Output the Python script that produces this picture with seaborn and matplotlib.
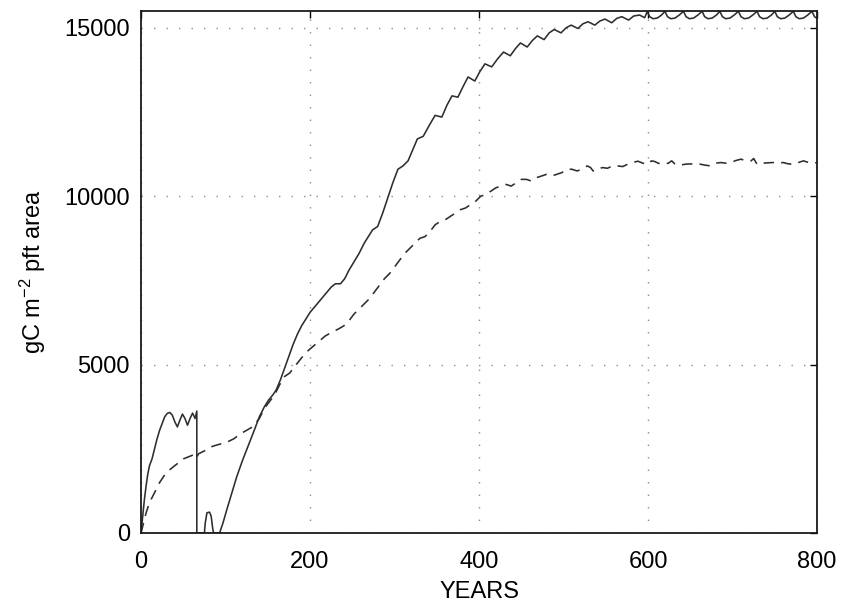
import matplotlib
matplotlib.use("Agg")
import matplotlib.pyplot as plt
import seaborn as sns
import pandas as pd

# Carbon per m2 of PFT area over an 800-year run
solid_years = [0, 2, 4, 6, 8, 10, 13, 16, 19, 22, 25, 28, 31, 34, 37, 40, 43, 46, 49, 52,
               55, 58, 61, 64, 66, 66, 75, 76, 78, 81, 83, 85, 86, 93, 97, 101, 107, 113,
               120, 127, 134, 140, 146, 151, 156, 160, 165, 170, 175, 180, 185, 190, 195,
               200, 205, 210, 215, 220, 225, 230, 236, 241, 246, 252, 258, 264, 269, 274,
               280, 286, 292, 298, 304, 310, 316, 322, 327, 334, 341, 348, 356, 362, 368,
               375, 381, 387, 395, 401, 407, 415, 422, 429, 437, 443, 449, 457, 463, 469,
               477, 483, 489, 497, 503, 509, 517, 523, 529, 537, 543, 549, 557, 563, 569,
               577, 583, 590, 596, 599, 602, 606, 611, 616, 620, 623, 627, 632, 637, 642,
               645, 649, 654, 659, 664, 667, 671, 676, 681, 685, 688, 692, 697, 702, 707,
               710, 714, 719, 724, 729, 732, 736, 741, 746, 750, 753, 757, 762, 767, 772,
               775, 779, 784, 789, 794, 797, 800]
solid_vals = [0, 500, 1000, 1400, 1750, 2000, 2200, 2500, 2800, 3050, 3250, 3450, 3550,
              3580, 3500, 3300, 3150, 3350, 3530, 3400, 3200, 3400, 3560, 3400, 3620, 0,
              0, 300, 600, 620, 500, 100, 0, 0, 300, 650, 1150, 1650, 2150, 2600, 3050,
              3450, 3750, 3950, 4100, 4250, 4550, 4900, 5250, 5600, 5900, 6150, 6350,
              6550, 6700, 6850, 7000, 7150, 7300, 7400, 7400, 7550, 7800, 8050, 8300,
              8600, 8800, 9000, 9100, 9500, 9950, 10400, 10800, 10900, 11050, 11400,
              11700, 11780, 12100, 12400, 12350, 12700, 12980, 12940, 13250, 13540,
              13420, 13700, 13930, 13840, 14080, 14280, 14170, 14380, 14550, 14430,
              14620, 14760, 14650, 14850, 14950, 14850, 15000, 15080, 14980, 15120,
              15180, 15080, 15200, 15260, 15150, 15280, 15330, 15230, 15350, 15380,
              15300, 15480, 15330, 15270, 15290, 15380, 15490, 15330, 15270, 15290,
              15380, 15490, 15330, 15270, 15290, 15380, 15490, 15330, 15270, 15290,
              15380, 15490, 15330, 15270, 15290, 15380, 15490, 15330, 15270, 15290,
              15380, 15490, 15330, 15270, 15290, 15380, 15490, 15330, 15270, 15290,
              15380, 15490, 15330, 15270, 15290, 15380, 15490, 15330, 15280]

dashed_years = [0, 3, 6, 10, 14, 18, 22, 26, 30, 35, 40, 45, 50, 55, 60, 64, 66, 68, 72,
                76, 82, 88, 95, 102, 110, 118, 125, 132, 140, 146, 152, 158, 164, 170,
                176, 182, 190, 197, 204, 211, 218, 225, 233, 240, 246, 252, 258, 264,
                270, 276, 282, 288, 294, 300, 306, 312, 318, 324, 330, 336, 342, 348,
                354, 360, 366, 372, 378, 384, 390, 396, 402, 408, 414, 420, 426, 432,
                438, 444, 450, 456, 462, 468, 474, 480, 486, 492, 498, 504, 510, 516,
                522, 528, 532, 535, 540, 546, 552, 558, 564, 570, 576, 582, 588, 594,
                600, 604, 608, 612, 618, 624, 628, 632, 638, 644, 650, 656, 662, 668,
                674, 680, 686, 692, 698, 704, 710, 716, 722, 725, 729, 735, 741, 748,
                754, 760, 766, 772, 778, 784, 790, 796, 800]
dashed_vals = [0, 300, 600, 900, 1100, 1300, 1500, 1650, 1800, 1900, 2000, 2100, 2200,
               2250, 2300, 2350, 2250, 2350, 2400, 2450, 2550, 2600, 2650, 2700, 2800,
               2950, 3050, 3150, 3400, 3700, 3900, 4100, 4400, 4650, 4750, 4950, 5200,
               5400, 5550, 5700, 5850, 5950, 6050, 6150, 6300, 6500, 6650, 6800, 6950,
               7150, 7350, 7550, 7700, 7900, 8100, 8300, 8450, 8600, 8750, 8800, 8950,
               9150, 9250, 9300, 9400, 9500, 9600, 9650, 9750, 9850, 10000, 10050,
               10150, 10250, 10300, 10350, 10300, 10400, 10500, 10500, 10450, 10550,
               10600, 10650, 10600, 10650, 10700, 10800, 10800, 10750, 10800, 10900,
               10850, 10750, 10800, 10850, 10830, 10900, 10900, 10880, 10950, 11000,
               11040, 10980, 10950, 11050, 11030, 10980, 10950, 10980, 11050, 10950,
               10920, 10950, 10960, 10940, 10950, 10920, 10900, 10980, 11000, 10980,
               11000, 11060, 11100, 11050, 11050, 11120, 10950, 10980, 10990, 11000,
               10980, 11000, 10960, 10950, 11000, 11050, 11000, 10980, 11000]

x_ticks = [0, 200, 400, 600, 800]
y_ticks = [0, 5000, 10000, 15000]

sns.set_style("white")
plt.rcParams["font.family"] = ["Liberation Sans", "DejaVu Sans"]
plt.rcParams["mathtext.fontset"] = "custom"
plt.rcParams["mathtext.rm"] = "Liberation Sans"
plt.rcParams["mathtext.it"] = "Liberation Sans"
plt.rcParams["text.color"] = "black"
plt.rcParams["axes.labelcolor"] = "black"

solid_df = pd.DataFrame({"year": solid_years, "carbon": solid_vals})
dashed_df = pd.DataFrame({"year": dashed_years, "carbon": dashed_vals})

fig = plt.figure(figsize=(8.41, 6.03), dpi=100)
ax = fig.add_axes([0.1677, 0.1161, 0.8038, 0.8657])

line_color = "0.18"
sns.lineplot(data=solid_df, x="year", y="carbon", estimator=None, sort=False,
             color=line_color, lw=1.15, ax=ax)
sns.lineplot(data=dashed_df, x="year", y="carbon", estimator=None, sort=False,
             color=line_color, lw=1.15, linestyle=(0, (6.5, 4.5)), ax=ax)

ax.set_xlim(0, 800)
ax.set_ylim(0, 15500)
ax.set_xticks(x_ticks)
ax.set_yticks(y_ticks)
ax.set_xticklabels([str(t) for t in x_ticks])
ax.set_yticklabels([str(t) for t in y_ticks])

ax.grid(True, color="0.55", linestyle=(0, (1, 8)), linewidth=1.0)
ax.tick_params(direction="in", length=5, width=1.0, colors="black",
               top=True, right=True, labelsize=17, pad=8)
ax.tick_params(axis="x", pad=13)
for sp in ax.spines.values():
    sp.set_visible(True)
    sp.set_color("0.1")
    sp.set_linewidth(1.3)

ax.set_xlabel("YEARS", fontsize=17, labelpad=6, color="black")
ax.set_ylabel(r"gC m$^{-2}$ pft area", fontsize=17, labelpad=12, color="black")

fig.savefig("out.png", dpi=100)
